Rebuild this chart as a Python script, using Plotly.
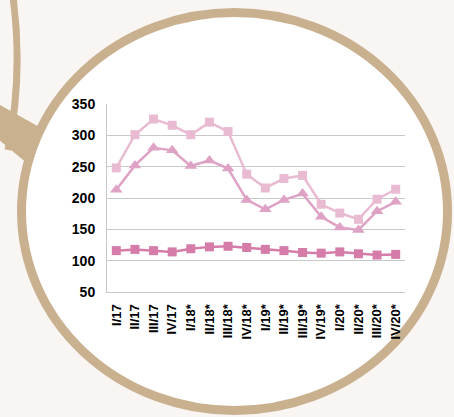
import plotly.graph_objects as go

categories = ["I/17", "II/17", "III/17", "IV/17", "I/18*", "II/18*", "III/18*", "IV/18*",
              "I/19*", "II/19*", "III/19*", "IV/19*", "I/20*", "II/20*", "III/20*", "IV/20*"]
series_light = [248, 301, 326, 316, 301, 321, 306, 238, 216, 231, 236, 190, 176, 166, 198, 214]
series_mid = [213, 252, 280, 276, 251, 260, 247, 197, 182, 197, 207, 170, 153, 149, 179, 194]
series_dark = [116, 118, 116, 114, 119, 122, 123, 121, 118, 116, 113, 112, 114, 111, 109, 110]
y_ticks = [50, 100, 150, 200, 250, 300, 350]

W, H = 454, 417
L, R, T, B = 107, 405, 104, 292


def px(x):
    return (x - L) / (R - L)


def py(y):
    return (B - y) / (B - T)


TAN = "#c9b08f"
BG = "#f8f5f2"

fig = go.Figure()
fig.add_trace(go.Scatter(x=categories, y=series_light, mode="lines+markers",
                         line=dict(color="#e9bbd2", width=2.5),
                         marker=dict(symbol="square", size=9, color="#e9bbd2")))
fig.add_trace(go.Scatter(x=categories, y=series_mid, mode="lines+markers",
                         line=dict(color="#dea2c4", width=2.5),
                         marker=dict(symbol="triangle-up", size=11, color="#dea2c4")))
fig.add_trace(go.Scatter(x=categories, y=series_dark, mode="lines+markers",
                         line=dict(color="#d67ca9", width=2.5),
                         marker=dict(symbol="square", size=9, color="#d67ca9")))

shapes = []
# left partial ring
arc = "M {},{} Q {},{} {},{}".format(px(12), py(-10), px(24), py(70), px(8), py(150))
shapes.append(dict(type="path", xref="paper", yref="paper", path=arc,
                   line=dict(color=TAN, width=7), layer="below"))
# connector
conn = "M {},{} L {},{} L {},{} L {},{} Z".format(px(-2), py(104), px(41), py(128),
                                                  px(28), py(164), px(-2), py(139))
shapes.append(dict(type="path", xref="paper", yref="paper", path=conn,
                   fillcolor=TAN, line=dict(width=0), layer="below"))
# main lens
shapes.append(dict(type="circle", xref="paper", yref="paper",
                   x0=px(21.5), x1=px(447.5), y0=py(410.5), y1=py(12.5),
                   fillcolor="white", line=dict(color=TAN, width=9), layer="below"))

fig.update_layout(
    width=W, height=H,
    margin=dict(l=L, r=W - R, t=T, b=H - B),
    paper_bgcolor=BG, plot_bgcolor="rgba(0,0,0,0)",
    showlegend=False,
    shapes=shapes,
    xaxis=dict(type="category", range=[-0.5, 15.5], showgrid=False,
               showline=True, linecolor="#c8c8c8", linewidth=1,
               tickangle=-90, ticks="", ticklabelstandoff=6,
               tickfont=dict(family="Liberation Sans, Arial", size=13, color="black", weight="bold")),
    yaxis=dict(range=[50, 350], tickvals=y_ticks, showgrid=True, gridcolor="#c8c8c8",
               gridwidth=1, zeroline=False, showline=True, linecolor="#c8c8c8",
               ticks="", ticklabelstandoff=8,
               tickfont=dict(family="Liberation Sans, Arial", size=14, color="black", weight="bold")),
)

fig.write_html("out.html", config={"displayModeBar": False},
               post_script="document.body.style.margin='0';document.body.style.background='%s';" % BG)
